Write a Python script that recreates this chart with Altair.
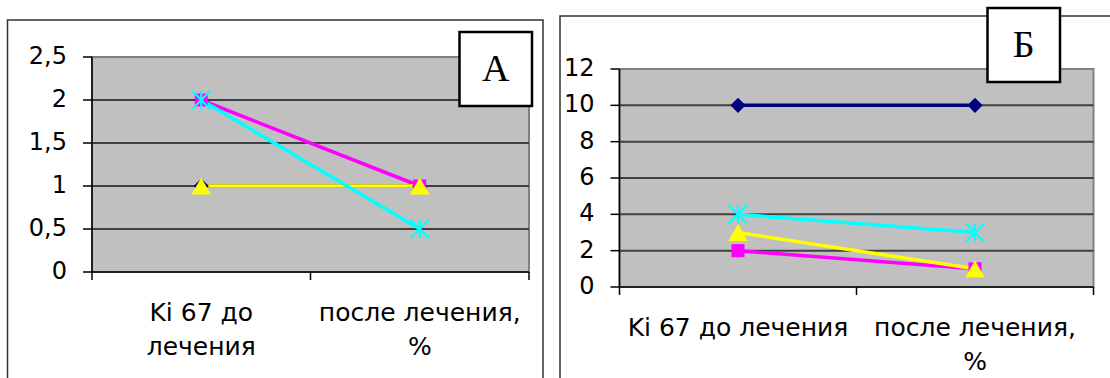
import altair as alt
import pandas as pd

# Categories on the x axis (two time points)
categories = ["Ki 67 до\nлечения", "после лечения,\n%"]
categories_b = ["Ki 67 до лечения", "после лечения,\n%"]

# Series values, panel А
a_navy = [1, 1]
a_magenta = [2, 1]
a_yellow = [1, 1]
a_cyan = [2, 0.5]

# Series values, panel Б
b_navy = [10, 10]
b_magenta = [2, 1]
b_yellow = [3, 1]
b_cyan = [4, 3]

# Y axis ticks and their labels
a_ticks = [0, 0.5, 1, 1.5, 2, 2.5]
a_tick_labels = ["0", "0,5", "1", "1,5", "2", "2,5"]
b_ticks = [0, 2, 4, 6, 8, 10, 12]
b_tick_labels = ["0", "2", "4", "6", "8", "10", "12"]

SERIES = [
    ("navy", "#000080", "diamond", 230),
    ("magenta", "#FF00FF", "square", 170),
    ("yellow", "#FFFF00", "triangle-up", 380),
    ("cyan", "#00FFFF", "M-1,-1L1,1M-1,1L1,-1M0,-1L0,1", 340),
]

SANS = "DejaVu Sans"
SERIF = "Liberation Serif"
one = pd.DataFrame({"k": [0]})


def panel(series_values, ticks, tick_labels, cats, x_range, y_range, box, letter):
    ymax = ticks[-1]
    sx = alt.Scale(domain=[-0.5, 1.5], range=x_range, nice=False, zero=False)
    sy = alt.Scale(domain=[0, ymax], range=y_range, nice=False, zero=False)

    def X(field):
        return alt.X(field, type="quantitative", scale=sx, axis=None)

    def Y(field):
        return alt.Y(field, type="quantitative", scale=sy, axis=None)

    layers = []

    # grey plot area with light border
    area = pd.DataFrame({"x": [-0.5], "x2": [1.5], "y": [0], "y2": [ymax]})
    layers.append(
        alt.Chart(area).mark_rect(fill="#C0C0C0", stroke="#808080", strokeWidth=2)
        .encode(x=X("x"), x2="x2", y=Y("y"), y2="y2")
    )

    # horizontal gridlines
    grid = pd.DataFrame({"y": ticks[1:-1], "x": -0.5, "x2": 1.5})
    layers.append(
        alt.Chart(grid).mark_rule(color="#404040", strokeWidth=2)
        .encode(x=X("x"), x2="x2", y=Y("y"))
    )

    # y axis line, its ticks and labels
    yax = pd.DataFrame({"x": [-0.5], "y": [0], "y2": [ymax]})
    layers.append(
        alt.Chart(yax).mark_rule(color="black", strokeWidth=1.5)
        .encode(x=X("x"), y=Y("y"), y2="y2")
    )
    yt = pd.DataFrame({"y": ticks, "label": tick_labels, "x": -0.5})
    layers.append(
        alt.Chart(yt).mark_rule(color="black", strokeWidth=1.5, xOffset=-9)
        .encode(x=X("x"), x2="x", y=Y("y"))
    )
    layers.append(
        alt.Chart(yt).mark_text(align="right", baseline="middle", dx=-25,
                                fontSize=24, font=SANS, color="black")
        .encode(x=X("x"), y=Y("y"), text="label:N")
    )

    # x axis line, ticks at category boundaries and category labels
    xax = pd.DataFrame({"x": [-0.5], "x2": [1.5], "y": [0]})
    layers.append(
        alt.Chart(xax).mark_rule(color="black", strokeWidth=1.5)
        .encode(x=X("x"), x2="x2", y=Y("y"))
    )
    xt = pd.DataFrame({"x": [-0.5, 0.5, 1.5], "y": 0})
    layers.append(
        alt.Chart(xt).mark_rule(color="black", strokeWidth=1.5, y2Offset=8)
        .encode(x=X("x"), y=Y("y"), y2="y")
    )
    xl = pd.DataFrame({"x": [0, 1], "y": 0, "label": cats})
    layers.append(
        alt.Chart(xl).mark_text(align="center", baseline="alphabetic", dy=49,
                                lineBreak="\n", lineHeight=34,
                                fontSize=25, font=SANS, color="black")
        .encode(x=X("x"), y=Y("y"), text="label:N")
    )

    # data series: lines first, then markers, in series order
    for (name, color, shape, size), vals in zip(SERIES, series_values):
        df = pd.DataFrame({"pos": [0, 1], "value": vals})
        layers.append(
            alt.Chart(df).mark_line(color=color, strokeWidth=3.5)
            .encode(x=X("pos"), y=Y("value"))
        )
    for (name, color, shape, size), vals in zip(SERIES, series_values):
        df = pd.DataFrame({"pos": [0, 1], "value": vals})
        if shape.startswith("M"):
            mark = alt.Chart(df).mark_point(shape=shape, size=size, filled=False,
                                            color=color, strokeWidth=2.2, opacity=1)
        else:
            mark = alt.Chart(df).mark_point(shape=shape, size=size, filled=True,
                                            color=color, opacity=1)
        layers.append(mark.encode(x=X("pos"), y=Y("value")))

    # panel letter in a boxed label
    bx0, by0, bx1, by1 = box
    layers.append(
        alt.Chart(one).mark_rect(fill="white", stroke="black", strokeWidth=2.5)
        .encode(x=alt.value(bx0), x2=alt.value(bx1), y=alt.value(by0), y2=alt.value(by1))
    )
    layers.append(
        alt.Chart(one).mark_text(text=letter, font=SERIF, fontSize=38,
                                 align="center", baseline="middle", color="black")
        .encode(x=alt.value((bx0 + bx1) / 2), y=alt.value((by0 + by1) / 2 + 1))
    )
    return alt.layer(*layers)


# outer frames of the two panels
frames = alt.layer(
    alt.Chart(one).mark_rect(fill="white", stroke="#333333", strokeWidth=1.5)
    .encode(x=alt.value(7.5), x2=alt.value(543), y=alt.value(20), y2=alt.value(420)),
    alt.Chart(one).mark_rect(fill="white", stroke="#333333", strokeWidth=1.5)
    .encode(x=alt.value(560), x2=alt.value(1140), y=alt.value(16), y2=alt.value(420)),
)

panel_a = panel([a_navy, a_magenta, a_yellow, a_cyan], a_ticks, a_tick_labels,
                categories, [92, 529], [272, 57], (459.5, 32, 532, 106), "А")
panel_b = panel([b_navy, b_magenta, b_yellow, b_cyan], b_ticks, b_tick_labels,
                categories_b, [619.5, 1093.5], [287, 69], (987.5, 8, 1060, 82), "Б")

chart = (
    alt.layer(frames, panel_a, panel_b)
    .resolve_scale(x="independent", y="independent")
    .properties(width=1110, height=378, autosize="none", padding=0, background="white")
    .configure_view(stroke=None)
)

chart.save("out.html", embed_options={"renderer": "svg", "actions": False})
